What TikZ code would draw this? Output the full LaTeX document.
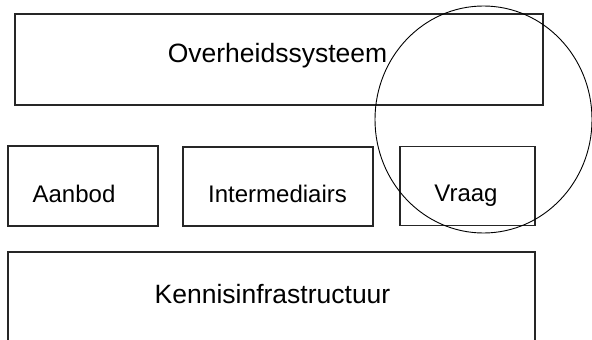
\documentclass[tikz,border=0pt]{standalone}
\usepackage{fontspec}
\setmainfont{Liberation Sans}
\begin{document}
\begin{tikzpicture}[x=1pt,y=-1pt,
  box/.style={draw=black!85,line width=1.5pt,inner sep=0pt,anchor=north west},
  big/.style={font=\fontsize{26.5}{31}\selectfont,anchor=base,inner sep=0pt},
  small/.style={font=\fontsize{24}{28}\selectfont,anchor=base,inner sep=0pt}]
\useasboundingbox (0,0) rectangle (592,340);
\node[box,minimum width=528pt,minimum height=91pt] (ov) at (14,13) {};
\node[box,minimum width=150pt,minimum height=80pt] (aa) at (7,145) {};
\node[box,minimum width=190pt,minimum height=79pt] (im) at (182,146) {};
\node[box,minimum width=135pt,minimum height=79pt] (vr) at (399,145.5) {};
\node[box,minimum width=527pt,minimum height=100pt] (ke) at (7,251) {};
\node[big] (tov) at (277.5,62) {Overheidssysteem};
\node[small] (taa) at (74,202) {Aanbod};
\node[small] (tim) at (277.5,202) {Intermediairs};
\node[small] (tvr) at (466,201) {Vraag};
\node[big] (tke) at (272.5,303) {Kennisinfrastructuur};
\draw[black,line width=0.9pt] (483.5,119.5) ellipse [x radius=108.5,y radius=113.5];
\end{tikzpicture}
\end{document}
